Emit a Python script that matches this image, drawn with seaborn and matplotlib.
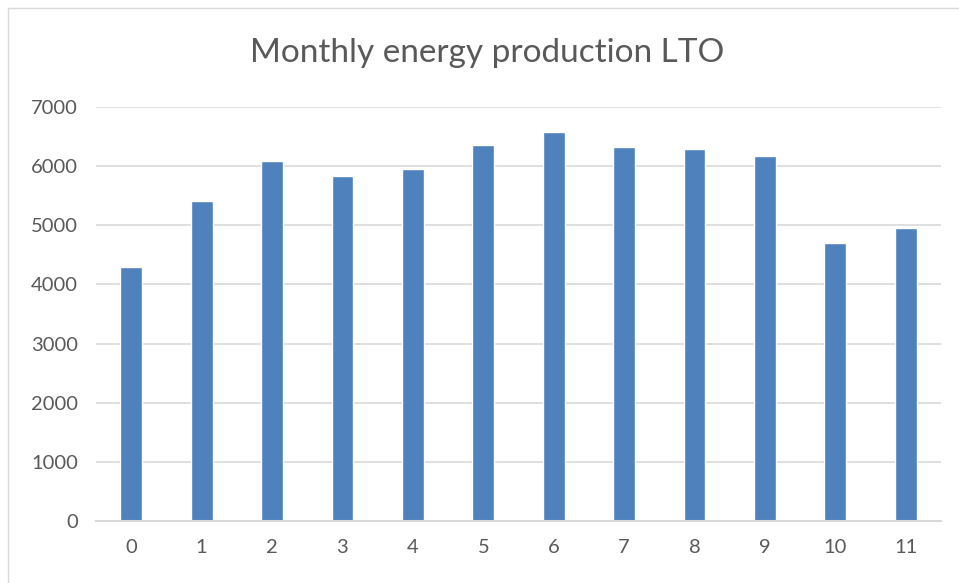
import matplotlib
matplotlib.use("Agg")
import matplotlib.pyplot as plt
import seaborn as sns
import pandas as pd
from matplotlib.lines import Line2D

months = [0, 1, 2, 3, 4, 5, 6, 7, 8, 9, 10, 11]
energy = [4300, 5405, 6080, 5836, 5945, 6355, 6570, 6332, 6292, 6170, 4708, 4951]
yticks = [0, 1000, 2000, 3000, 4000, 5000, 6000, 7000]

df = pd.DataFrame({"month": months, "energy": energy})

sns.set_style("white")
plt.rcParams["font.family"] = ["Lato", "DejaVu Sans"]

text_color = "#595959"
grid_color = "#d9d9d9"

fig = plt.figure(figsize=(9.59, 5.83), dpi=100)
ax = fig.add_axes([96 / 959, 1 - 521 / 583, (941 - 96) / 959, (521 - 107) / 583])

sns.barplot(data=df, x="month", y="energy", color="#4f81bd", width=0.31,
            saturation=1, ax=ax, zorder=3)

ax.set_ylim(0, 7000)
ax.set_xlim(-0.5, 11.5)
ax.set_yticks(yticks)
ax.set_yticklabels([str(v) for v in yticks])
ax.grid(axis="y", color=grid_color, linewidth=1.2, zorder=0)
ax.set_axisbelow(True)
for s in ["top", "right", "left"]:
    ax.spines[s].set_visible(False)
ax.spines["bottom"].set_color(grid_color)
ax.spines["bottom"].set_linewidth(1.5)
ax.spines["bottom"].set_zorder(4)
ax.tick_params(axis="both", length=0, labelsize=14.5, colors=text_color)
ax.tick_params(axis="x", pad=13)
ax.tick_params(axis="y", pad=13)
ax.set_xlabel("")
ax.set_ylabel("")

fig.text(487 / 959, 1 - 53 / 583, "Monthly energy production LTO", ha="center",
         va="center", fontsize=24, color=text_color)

# chart frame
fig.add_artist(Line2D([8 / 959, 8 / 959], [0, 1 - 8 / 583], transform=fig.transFigure,
                      color=grid_color, linewidth=1))
fig.add_artist(Line2D([8 / 959, 1], [1 - 8 / 583, 1 - 8 / 583], transform=fig.transFigure,
                      color=grid_color, linewidth=1))

fig.savefig("out.png", dpi=100)
